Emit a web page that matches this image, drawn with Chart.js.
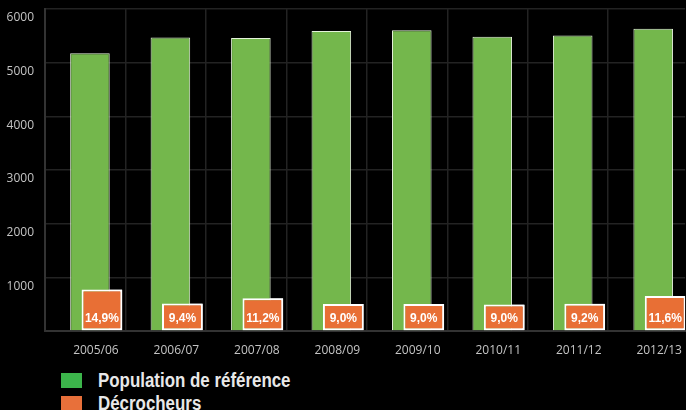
<!DOCTYPE html>
<html>
<head>
<meta charset="utf-8">
<script src="https://cdn.jsdelivr.net/npm/chart.js@4.4.1/dist/chart.umd.min.js"></script>
<style>
  html, body { margin: 0; padding: 0; background: #000; overflow: hidden; }
  #wrap { position: relative; width: 686px; height: 366px; }
  #legend { position: absolute; left: 61px; top: 369px; margin: 0; padding: 0; list-style: none; }
  #legend li { display: flex; align-items: center; height: 23px; }
  #legend span.box { display: inline-block; width: 21px; height: 15px; margin-right: 16px; }
  #legend span.txt { display: inline-block; color: #e8e8e8; transform: scaleX(0.845); transform-origin: left center;
    font: bold 20px "Liberation Sans", Arial, sans-serif; white-space: nowrap; }
</style>
</head>
<body>
<div id="wrap"><canvas id="decrochage"></canvas></div>
<ul id="legend"></ul>
<script>
// années scolaires
const annees = ['2005/06', '2006/07', '2007/08', '2008/09', '2009/10', '2010/11', '2011/12', '2012/13'];
// population de référence
const population = [5175, 5470, 5460, 5590, 5605, 5485, 5505, 5630];
// nombre de décrocheurs (hauteur des cases orange)
const decrocheurs = [771, 514, 612, 503, 504, 494, 507, 653];
// taux affichés dans les cases
const taux = [14.9, 9.4, 11.2, 9.0, 9.0, 9.0, 9.2, 11.6];
const yTicks = [0, 1000, 2000, 3000, 4000, 5000, 6000];

const xMin = -0.633, xMax = 7.323;

// redessine les cases orange par-dessus les barres vertes et y écrit le taux
const tauxLabels = {
    id: 'tauxLabels',
    afterDatasetsDraw(chart) {
        const ctx = chart.ctx;
        const area = chart.chartArea;
        const base = chart.scales.y.getPixelForValue(0);
        const bars = chart.getDatasetMeta(1).data;
        ctx.save();
        ctx.beginPath();
        ctx.rect(area.left, area.top - 2, area.right - area.left, area.bottom - area.top + 4);
        ctx.clip();
        bars.forEach(bar => bar.draw(ctx));
        ctx.fillStyle = '#ffffff';
        ctx.font = 'bold 12px "Liberation Sans", Arial, sans-serif';
        ctx.textAlign = 'center';
        ctx.textBaseline = 'middle';
        bars.forEach((bar, i) => {
            ctx.fillText(taux[i].toFixed(1).replace('.', ',') + '%', bar.x, base - 12);
        });
        ctx.restore();
    }
};

const ctx = document.getElementById('decrochage').getContext('2d');
const chart = new Chart(ctx, {
    type: 'bar',
    data: {
        datasets: [{
            label: 'Population de référence',
            data: population.map((v, i) => ({ x: i, y: v })),
            backgroundColor: '#74b74c',
            borderColor: '#e4f2da',
            borderWidth: 1,
            categoryPercentage: 0.298,
            barPercentage: 3.3,
            legendColor: '#3cb54b'
        }, {
            label: 'Décrocheurs',
            data: decrocheurs.map((v, i) => ({ x: i, y: v })),
            backgroundColor: '#e86f35',
            borderColor: '#ffffff',
            borderWidth: 2,
            borderSkipped: false,
            categoryPercentage: 0.298,
            barPercentage: 3.4,
            legendColor: '#e8703a'
        }]
    },
    options: {
        responsive: true,
        maintainAspectRatio: false,
        animation: false,
        layout: { padding: 0 },
        plugins: {
            legend: { display: false },
            tooltip: { enabled: false }
        },
        scales: {
            x: {
                type: 'linear',
                offset: false,
                min: xMin,
                max: xMax,
                afterBuildTicks: s => { s.ticks = annees.map((a, i) => ({ value: i })); },
                afterFit: s => { s.height = 35; },
                ticks: {
                    color: '#c4c4c4',
                    font: { family: '"Open Sans", sans-serif', size: 12 },
                    padding: 4,
                    autoSkip: false,
                    maxRotation: 0,
                    callback: v => annees[v]
                },
                grid: { display: false, offset: false },
                border: { color: '#333333', width: 2 }
            },
            x2: {
                type: 'linear',
                position: 'top',
                offset: false,
                min: xMin,
                max: xMax,
                afterBuildTicks: s => { s.ticks = annees.map((a, i) => ({ value: xMin + i })); },
                afterFit: s => { s.height = 2; },
                ticks: { display: false },
                grid: { color: '#232323', lineWidth: 1.5, drawTicks: false, offset: false },
                border: { display: false }
            },
            y: {
                min: 0,
                max: 6000,
                afterBuildTicks: s => { s.ticks = yTicks.map(v => ({ value: v })); },
                afterFit: s => { s.width = 45; s.paddingTop = 9; s.paddingBottom = 0; },
                ticks: {
                    color: '#c4c4c4',
                    font: { family: '"Open Sans", sans-serif', size: 12 },
                    padding: 11,
                    labelOffset: 9,
                    callback: v => v === 0 ? '' : String(v)
                },
                grid: { color: '#232323', lineWidth: 1.5, drawTicks: false },
                border: { color: '#333333', width: 2 }
            }
        }
    },
    plugins: [tauxLabels]
});

// légende en deux lignes sous le graphique
const legend = document.getElementById('legend');
chart.data.datasets.forEach(ds => {
    const li = document.createElement('li');
    const box = document.createElement('span');
    box.className = 'box';
    box.style.background = ds.legendColor;
    const txt = document.createElement('span');
    txt.className = 'txt';
    txt.textContent = ds.label;
    li.appendChild(box);
    li.appendChild(txt);
    legend.appendChild(li);
});
</script>
</body>
</html>
